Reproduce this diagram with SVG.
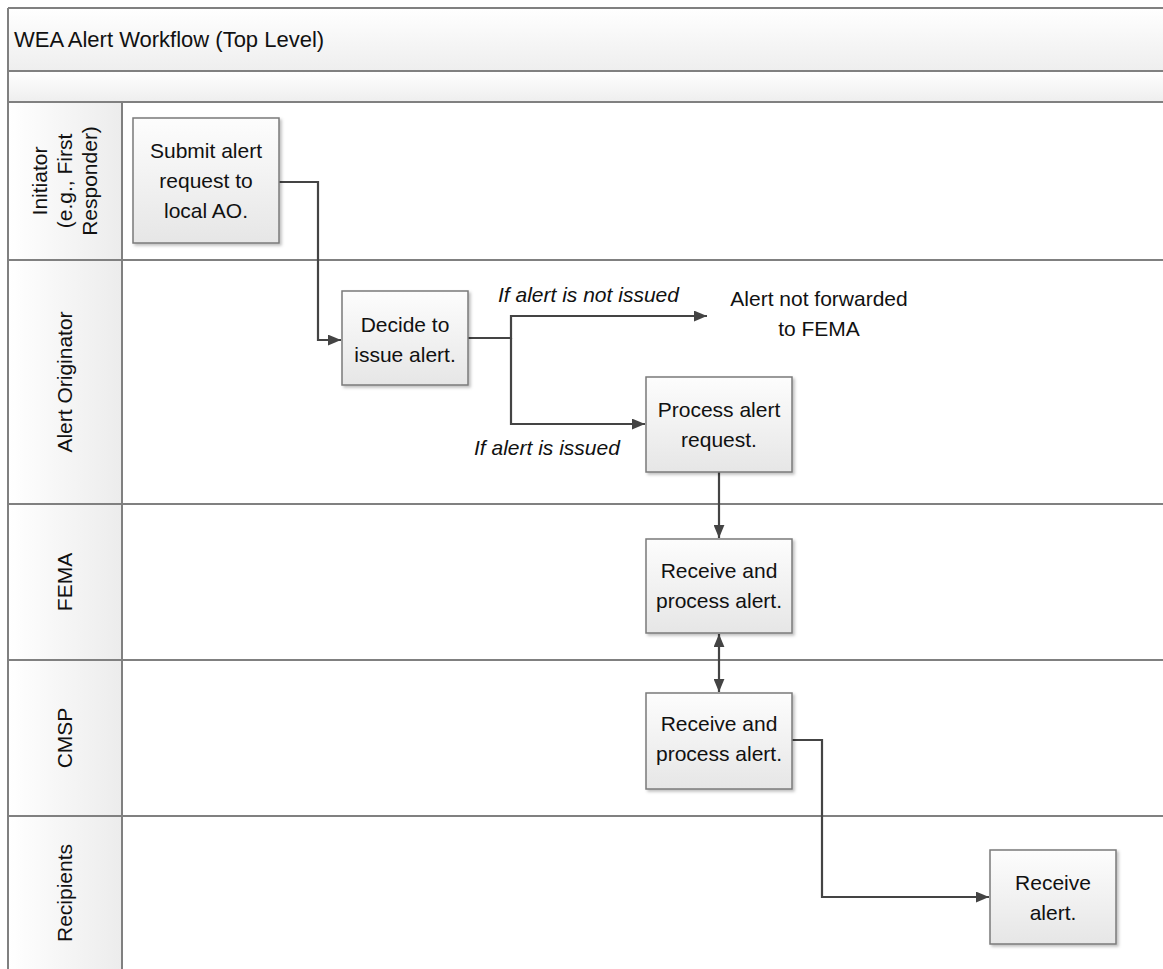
<svg xmlns="http://www.w3.org/2000/svg" width="1163" height="969" viewBox="0 0 1163 969">
<style>
.t{font-family:"Liberation Sans",Arial,sans-serif;font-size:21px;fill:#111;text-anchor:middle}
.ti{font-family:"Liberation Sans",Arial,sans-serif;font-size:21px;fill:#111;font-style:italic}
.box{fill:url(#ng);stroke:#7a7a7a;stroke-width:1.5;filter:url(#sh)}
.grid{stroke:#808080;stroke-width:2;fill:none}
.c{stroke:#444;stroke-width:2.2;fill:none}
</style>
<defs>
<linearGradient id="ng" x1="0" y1="0" x2="0" y2="1"><stop offset="0" stop-color="#fdfdfd"/><stop offset="1" stop-color="#e6e6e6"/></linearGradient>
<linearGradient id="hg" x1="0" y1="0" x2="0" y2="1"><stop offset="0" stop-color="#ffffff"/><stop offset="1" stop-color="#eeeeee"/></linearGradient>
<linearGradient id="lg" x1="0" y1="0" x2="1" y2="0"><stop offset="0" stop-color="#ffffff"/><stop offset="1" stop-color="#ececec"/></linearGradient>
<filter id="sh" x="-10%" y="-10%" width="125%" height="125%"><feDropShadow dx="2" dy="2" stdDeviation="1.5" flood-color="#000" flood-opacity="0.25"/></filter>
<marker id="ah" viewBox="0 0 12 10" refX="12" refY="5" markerWidth="13" markerHeight="11" markerUnits="userSpaceOnUse" orient="auto-start-reverse"><path d="M0,0 L12,5 L0,10 z" fill="#444"/></marker>
</defs>
<rect width="1163" height="969" fill="#fff"/>
<g id="pool">
<rect x="8" y="8" width="1155" height="63" fill="url(#hg)"/>
<rect x="8" y="71" width="1155" height="31" fill="url(#hg)"/>
<rect x="8" y="102" width="114" height="867" fill="url(#lg)"/>
<path class="grid" d="M8,8 H1163 M8,71 H1163 M8,102 H1163 M8,260 H1163 M8,504 H1163 M8,660 H1163 M8,816 H1163 M8,8 V969 M122,102 V969"/>
<text x="14" y="47" font-family="Liberation Sans,Arial,sans-serif" font-size="22" fill="#111">WEA Alert Workflow (Top Level)</text>
</g>
<g id="lane-initiator">
<text class="t" transform="translate(47,181) rotate(-90)">Initiator</text>
<text class="t" transform="translate(72,181) rotate(-90)">(e.g., First</text>
<text class="t" transform="translate(97,181) rotate(-90)">Responder)</text>
</g>
<g id="lane-ao"><text class="t" transform="translate(72,382) rotate(-90)">Alert Originator</text></g>
<g id="lane-fema"><text class="t" transform="translate(72,582) rotate(-90)">FEMA</text></g>
<g id="lane-cmsp"><text class="t" transform="translate(72,738) rotate(-90)">CMSP</text></g>
<g id="lane-recipients"><text class="t" transform="translate(72,893) rotate(-90)">Recipients</text></g>
<g id="connectors">
<path class="c" d="M279,182 H318 V340 H341" marker-end="url(#ah)"/>
<path class="c" d="M468,338 H511 V316 H707" marker-end="url(#ah)"/>
<path class="c" d="M511,338 V424 H645" marker-end="url(#ah)"/>
<path class="c" d="M719,472 V538" marker-end="url(#ah)"/>
<path class="c" d="M719,634 V692" marker-start="url(#ah)" marker-end="url(#ah)"/>
<path class="c" d="M792,740 H822 V897 H989" marker-end="url(#ah)"/>
<text class="ti" x="498" y="302">If alert is not issued</text>
<text class="ti" x="474" y="455">If alert is issued</text>
</g>
<g id="submit"><rect class="box" x="133" y="118" width="146" height="125"/>
<text class="t" x="206" y="158">Submit alert</text><text class="t" x="206" y="188">request to</text><text class="t" x="206" y="218">local AO.</text></g>
<g id="decide"><rect class="box" x="342" y="291" width="126" height="94"/>
<text class="t" x="405" y="332">Decide to</text><text class="t" x="405" y="362">issue alert.</text></g>
<g id="not-forwarded"><text class="t" x="819" y="306">Alert not forwarded</text><text class="t" x="819" y="336">to FEMA</text></g>
<g id="process"><rect class="box" x="646" y="377" width="146" height="95"/>
<text class="t" x="719" y="417">Process alert</text><text class="t" x="719" y="447">request.</text></g>
<g id="fema-receive"><rect class="box" x="646" y="539" width="146" height="94"/>
<text class="t" x="719" y="578">Receive and</text><text class="t" x="719" y="608">process alert.</text></g>
<g id="cmsp-receive"><rect class="box" x="646" y="693" width="146" height="96"/>
<text class="t" x="719" y="731">Receive and</text><text class="t" x="719" y="761">process alert.</text></g>
<g id="recipients-receive"><rect class="box" x="990" y="850" width="126" height="94"/>
<text class="t" x="1053" y="890">Receive</text><text class="t" x="1053" y="920">alert.</text></g>
</svg>
